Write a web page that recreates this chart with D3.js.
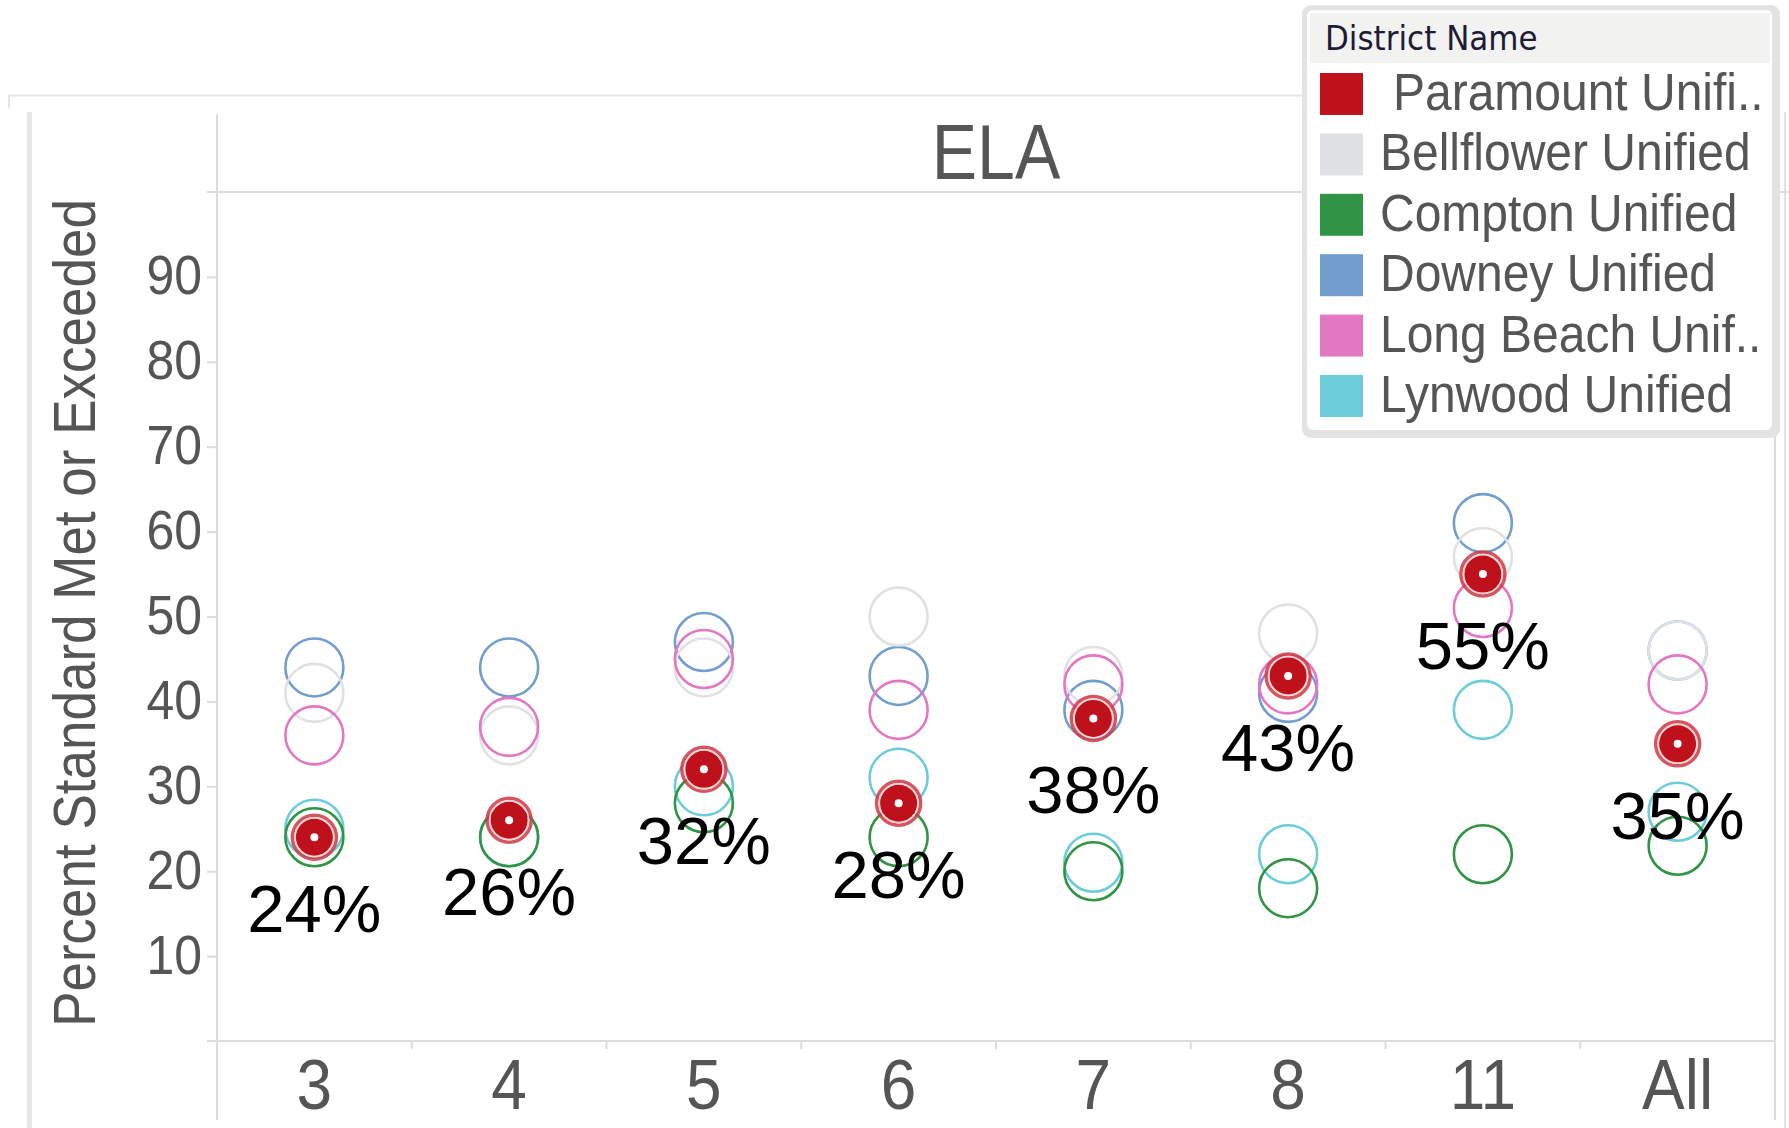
<!DOCTYPE html>
<html>
<head>
<meta charset="utf-8">
<script src="https://cdn.jsdelivr.net/npm/d3@7"></script>
<style>
  html, body { margin: 0; padding: 0; background: #fff; }
  svg { display: block; }
</style>
</head>
<body>
<svg id="chart" width="1789" height="1128"></svg>
<script>
// ---- Data ----
const grades = ["3", "4", "5", "6", "7", "8", "11", "All"];
const districts = ["Paramount Unified", "Bellflower Unified", "Compton Unified", "Downey Unified", "Long Beach Unified", "Lynwood Unified"];
const legendLabels = ["Paramount Unifi..", "Bellflower Unified", "Compton Unified", "Downey Unified", "Long Beach Unif..", "Lynwood Unified"];
const colors = ["#bf111b", "#e0e1e5", "#2f9443", "#729ece", "#e377c2", "#6dccda"];
const paramount  = [24, 26, 32, 28, 38, 43, 55, 35];
const bellflower = [41, 36, 44, 50, 43, 48, 57, 46];
const compton    = [24, 24, 28, 24, 20, 18, 22, 23];
const downey     = [44, 44, 47, 43, 39, 41, 61, 46];
const longBeach  = [36, 37, 45, 39, 42, 42, 51, 42];
const lynwood    = [25, 24, 30, 31, 21, 22, 39, 27];
const yTicks = [10, 20, 30, 40, 50, 60, 70, 80, 90];
const title = "ELA";
const yTitle = "Percent Standard Met or Exceeded";
const legendTitle = "District Name";

const seriesValues = [paramount, bellflower, compton, downey, longBeach, lynwood];

// ---- Layout ----
const svg = d3.select("#chart");
const plotLeft = 217, plotRight = 1775, plotTop = 192, plotBottom = 1041;
const font = "'Liberation Sans', Arial, sans-serif";
const gridColor = "#dcdcdc";
const textGray = "#555555";

const x = d3.scaleBand().domain(grades).range([plotLeft, plotRight]).padding(0);
const y = d3.scaleLinear().domain([0, 100]).range([plotBottom, plotTop]);

// dashboard frame artifacts
svg.append("line").attr("x1", 8).attr("x2", 1305).attr("y1", 95.5).attr("y2", 95.5)
  .attr("stroke", "#e6e6e6").attr("stroke-width", 2);
svg.append("line").attr("x1", 9).attr("x2", 9).attr("y1", 95).attr("y2", 108)
  .attr("stroke", "#e6e6e6").attr("stroke-width", 2);
svg.append("line").attr("x1", 29.5).attr("x2", 29.5).attr("y1", 112).attr("y2", 1128)
  .attr("stroke", "#e6e6e6").attr("stroke-width", 5);
svg.append("line").attr("x1", 1785).attr("x2", 1785).attr("y1", 112).attr("y2", 1128)
  .attr("stroke", "#e2e2e2").attr("stroke-width", 2);

// plot frame lines
svg.append("line").attr("x1", plotLeft).attr("x2", plotLeft).attr("y1", 114).attr("y2", 1120)
  .attr("stroke", gridColor).attr("stroke-width", 2);
svg.append("line").attr("x1", plotRight).attr("x2", plotRight).attr("y1", 114).attr("y2", 1120)
  .attr("stroke", gridColor).attr("stroke-width", 2);
svg.append("line").attr("x1", 207).attr("x2", 1789).attr("y1", plotTop).attr("y2", plotTop)
  .attr("stroke", gridColor).attr("stroke-width", 2);

// y axis
const yAxis = d3.axisLeft(y).tickValues(yTicks).tickSize(10).tickFormat("");
const yg = svg.append("g").attr("transform", `translate(${plotLeft},0)`).call(yAxis);
yg.select(".domain").remove();
yg.selectAll(".tick line").attr("stroke", gridColor).attr("stroke-width", 2);
yg.selectAll(".tick").append("text")
  .attr("fill", textGray).attr("text-anchor", "end")
  .attr("font-family", font).attr("font-size", 50)
  .attr("transform", "translate(-15,17) scale(1,1.12)")
  .attr("x", 0).attr("y", 0).attr("dy", 0)
  .text(d => d);

// x axis baseline and separators
svg.append("line").attr("x1", 207).attr("x2", plotRight).attr("y1", plotBottom).attr("y2", plotBottom)
  .attr("stroke", gridColor).attr("stroke-width", 2);
svg.append("g").selectAll("line").data(grades.slice(1)).join("line")
  .attr("x1", d => x(d)).attr("x2", d => x(d))
  .attr("y1", plotBottom).attr("y2", plotBottom + 8)
  .attr("stroke", gridColor).attr("stroke-width", 2);
svg.append("g").selectAll("text").data(grades).join("text")
  .attr("transform", d => `translate(${x(d) + x.bandwidth() / 2},1109) scale(1,1.1)`)
  .attr("text-anchor", "middle").attr("fill", textGray)
  .attr("font-family", font).attr("font-size", 64)
  .text(d => d);

// header title
svg.append("text")
  .attr("transform", `translate(${(plotLeft + plotRight) / 2},179) scale(1,1.15)`)
  .attr("text-anchor", "middle").attr("fill", textGray)
  .attr("font-family", font).attr("font-size", 68)
  .text(title);

// y axis title
svg.append("text")
  .attr("transform", "translate(95,613) rotate(-90) scale(1,1.1)")
  .attr("text-anchor", "middle").attr("fill", textGray)
  .attr("font-family", font).attr("font-size", 53)
  .text(yTitle);

// hollow circles (draw order: Downey, Bellflower, Long Beach, Lynwood, Compton)
const drawOrder = [3, 1, 4, 5, 2];
const marks = svg.append("g");
drawOrder.forEach(si => {
  marks.append("g").selectAll("circle").data(seriesValues[si]).join("circle")
    .attr("cx", (d, i) => x(grades[i]) + x.bandwidth() / 2)
    .attr("cy", d => y(d))
    .attr("r", 29)
    .attr("fill", "none")
    .attr("stroke", colors[si])
    .attr("stroke-width", 2.6);
});

// Paramount highlighted marks
const pg = marks.append("g").selectAll("g").data(paramount).join("g")
  .attr("transform", (d, i) => `translate(${x(grades[i]) + x.bandwidth() / 2},${y(d)})`);
pg.append("circle").attr("r", 22).attr("fill", "none")
  .attr("stroke", "#cc3a44").attr("stroke-width", 3.5).attr("opacity", 0.85);
pg.append("circle").attr("r", 19.5).attr("fill", "none")
  .attr("stroke", "#f4d0d2").attr("stroke-width", 1.5);
pg.append("circle").attr("r", 18.5).attr("fill", colors[0]);
pg.append("circle").attr("r", 4).attr("fill", "#ffffff");

// percent labels
svg.append("g").selectAll("text").data(paramount).join("text")
  .attr("x", (d, i) => x(grades[i]) + x.bandwidth() / 2)
  .attr("y", d => y(d) + 95)
  .attr("text-anchor", "middle").attr("fill", "#000")
  .attr("font-family", font).attr("font-size", 67)
  .text(d => d + "%");

// legend
const lg = svg.append("g");
lg.append("rect").attr("x", 1302).attr("y", 5).attr("width", 478).attr("height", 433)
  .attr("rx", 9).attr("fill", "#e3e3e3");
lg.append("rect").attr("x", 1307).attr("y", 10).attr("width", 465).attr("height", 420)
  .attr("rx", 6).attr("fill", "#ffffff");
lg.append("rect").attr("x", 1310).attr("y", 13).attr("width", 460).attr("height", 50)
  .attr("fill", "#f2f2f0");
lg.append("text")
  .attr("transform", "translate(1325,50) scale(1,1.1)")
  .attr("fill", "#1c1c36").attr("font-family", "'DejaVu Sans', Verdana, sans-serif")
  .attr("font-size", 31).text(legendTitle);
const rows = lg.selectAll("g.row").data(districts).join("g").attr("class", "row")
  .attr("transform", (d, i) => `translate(0,${73 + i * 60.4})`);
rows.append("rect").attr("x", 1320).attr("y", 0).attr("width", 43).attr("height", 42)
  .attr("fill", (d, i) => colors[i]);
rows.append("text")
  .attr("transform", (d, i) => `translate(${i === 0 ? 1393 : 1380},37) scale(1,1.07)`)
  .attr("fill", textGray).attr("font-family", font).attr("font-size", 48)
  .text((d, i) => legendLabels[i]);
</script>
</body>
</html>
